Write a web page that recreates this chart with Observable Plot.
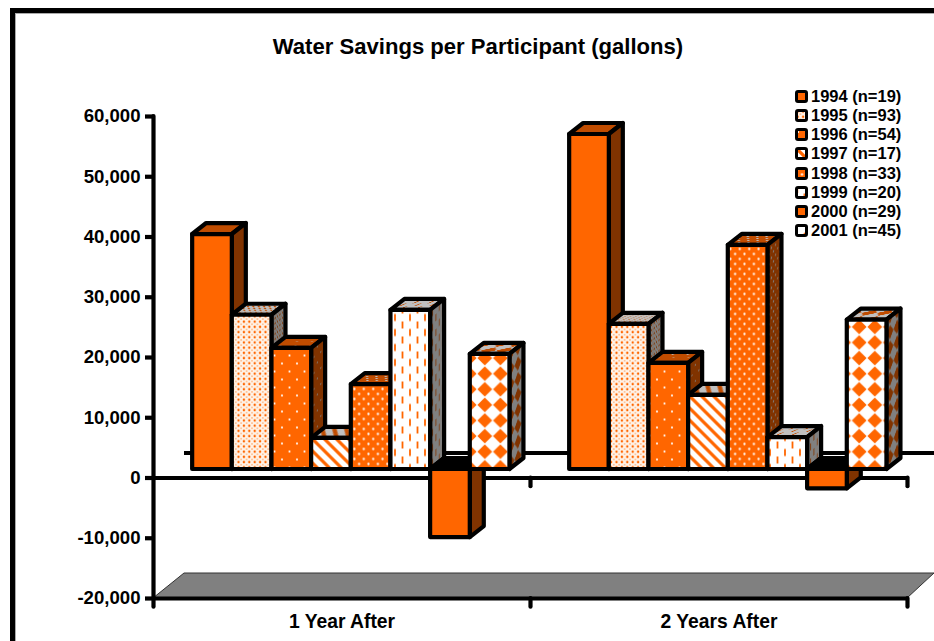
<!DOCTYPE html>
<html>
<head>
<meta charset="utf-8">
<script src="https://cdn.jsdelivr.net/npm/d3@7"></script>
<script src="https://cdn.jsdelivr.net/npm/@observablehq/plot@0.6"></script>
<style>
html,body{margin:0;padding:0;background:#fff;overflow:hidden;width:934px;height:641px;font-family:"Liberation Sans",Arial,sans-serif;font-weight:bold;color:#000}
#frame{position:absolute;left:10px;top:8px;right:-10px;bottom:-10px;border-left:5px solid #000;border-top:5px solid #000;box-shadow:inset 1px 1px 0 #aaa}
#chart{position:absolute;left:0;top:0}
#title{position:absolute;left:0;width:956px;top:35px;text-align:center;font-size:22.1px;line-height:24px}
#legend{position:absolute;left:795px;top:87px}
.item{position:absolute;left:0;height:19px;white-space:nowrap;font-size:16.5px;line-height:19px}
.item svg{position:absolute;left:0;top:3px}
.item span{position:absolute;left:16px;top:0}
</style>
</head>
<body>
<div id="frame"></div>
<div id="root"></div>
<div id="title">Water Savings per Participant (gallons)</div>
<div id="legend"></div>
<script>
const groups = ["1 Year After", "2 Years After"];
const years = ["1994", "1995", "1996", "1997", "1998", "1999", "2000", "2001"];
const counts = [19, 93, 54, 17, 33, 20, 29, 45];
const oneYearAfter = [39000, 25600, 20100, 5150, 14100, 26400, -11300, 19100];
const twoYearsAfter = [55600, 24100, 17600, 12300, 37200, 5300, -3200, 24800];
const yTicks = [-20000, -10000, 0, 10000, 20000, 30000, 40000, 50000, 60000];

const BAR = 0.1052;  // bar width as a share of a category
const PAD = 0.08;    // space before a category's first bar
const rows = [];
[oneYearAfter, twoYearsAfter].forEach((series, g) => {
  series.forEach((value, i) => {
    rows.push({group: groups[g], year: years[i], value, i, x1: g + PAD + i * BAR, x2: g + PAD + (i + 1) * BAR});
  });
});

// Hatch fills
const ORANGE = ["#FF6600", "#C04C00", "#803300"];
const WHITE  = ["#FFFFFF", "#C0C0C0", "#808080"];
const faceTransforms = ["", "matrix(1 0 -0.9 0.4 0 0)", "matrix(0.45 -0.34 0 1 0 0)"];
const patternMakers = [
  (p, o, w) => { p.attr("width", 8).attr("height", 8); p.append("rect").attr("width", 8).attr("height", 8).attr("fill", o); },
  (p, o, w) => {
    p.attr("width", 5.4).attr("height", 5.2);
    p.append("rect").attr("width", 6).attr("height", 6).attr("fill", w === WHITE[0] ? "#FFF3E8" : w);
    p.append("circle").attr("cx", 2.7).attr("cy", 2.6).attr("r", 1.2).attr("fill", o);
    for (const [x, y] of [[0, 0], [5.4, 0], [0, 5.2], [5.4, 5.2]])
      p.append("circle").attr("cx", x).attr("cy", y).attr("r", 0.9).attr("fill", o).attr("opacity", 0.45);
  },
  (p, o, w) => {
    p.attr("width", 15).attr("height", 16);
    p.append("rect").attr("width", 15).attr("height", 16).attr("fill", o);
    for (const [x, y] of [[3, 4], [10.5, 12]]) p.append("circle").attr("cx", x).attr("cy", y).attr("r", 1.1).attr("fill", w);
  },
  (p, o, w) => {
    p.attr("width", 12).attr("height", 12);
    p.append("rect").attr("width", 12).attr("height", 12).attr("fill", w);
    p.append("path").attr("d", "M-3,-3L15,15M-3,9L3,15M9,-3L15,3").attr("stroke", o).attr("stroke-width", 3.2);
  },
  (p, o, w) => {
    p.attr("width", 9.4).attr("height", 10);
    p.append("rect").attr("width", 10).attr("height", 10).attr("fill", o);
    for (const [x, y] of [[2.3, 2.5], [7, 7.5]]) p.append("circle").attr("cx", x).attr("cy", y).attr("r", 1.15).attr("fill", w);
  },
  (p, o, w) => {
    p.attr("width", 15).attr("height", 15);
    p.append("rect").attr("width", 15).attr("height", 15).attr("fill", w);
    p.append("path").attr("d", "M3.5,0V7M11,7.5V14.5").attr("stroke", o).attr("stroke-width", 1.8);
  },
  (p, o, w) => { p.attr("width", 8).attr("height", 8); p.append("rect").attr("width", 8).attr("height", 8).attr("fill", o); },
  (p, o, w) => {
    p.attr("width", 15.6).attr("height", 15.6);
    p.append("rect").attr("width", 16).attr("height", 16).attr("fill", w);
    p.append("path").attr("d", "M7.8,0.4L15.2,7.8L7.8,15.2L0.4,7.8Z").attr("fill", o);
  }
];
const defsSvg = d3.select("#root").append("svg").attr("width", 0).attr("height", 0).style("position", "absolute");
const defs = defsSvg.append("defs");
patternMakers.forEach((make, i) => {
  [0, 1, 2].forEach(face => {
    const p = defs.append("pattern").attr("id", `p${i}f${face}`).attr("patternUnits", "userSpaceOnUse");
    if (faceTransforms[face]) p.attr("patternTransform", faceTransforms[face]);
    make(p, ORANGE[face], WHITE[face]);
  });
});
const fillFor = (i, face) => `url(#p${i}f${face})`;

// Depth of the bars, and of the plot floor, on the page
const BAR_SHIFT = [9, -8.5];
const BAR_DEPTH = [14, -11];
const FLOOR_LEFT = [31, -25];
const FLOOR_RIGHT = [27, -25];
const INK = "#000";
const LINE = 4.2;

const addFaces = (index, scales, values, dims, ctx, next) => {
  const g = next(index, scales, values, dims, ctx);
  const rects = [...g.querySelectorAll("rect")];
  const ns = "http://www.w3.org/2000/svg";
  rects.forEach((rect, k) => {
    const row = rows[index[k]];
    const x = +rect.getAttribute("x"), y = +rect.getAttribute("y");
    const w = +rect.getAttribute("width"), h = +rect.getAttribute("height");
    const [ddx, ddy] = BAR_DEPTH;
    const poly = (pts, fill) => {
      const el = document.createElementNS(ns, "polygon");
      el.setAttribute("points", pts.map(p => p.join(",")).join(" "));
      el.setAttribute("fill", fill);
      el.setAttribute("stroke", INK);
      el.setAttribute("stroke-width", LINE);
      el.setAttribute("stroke-linejoin", "round");
      return el;
    };
    const top = poly([[x, y], [x + ddx, y + ddy], [x + w + ddx, y + ddy], [x + w, y]],
      row.value < 0 ? "#000" : fillFor(row.i, 1));
    const side = poly([[x + w, y], [x + w + ddx, y + ddy], [x + w + ddx, y + h + ddy], [x + w, y + h]], fillFor(row.i, 2));
    rect.before(top);
    rect.before(side);
  });
  return g;
};

// Floor of the chart, built from the x and y scales
const floorMark = (index, scales) => {
  const y0 = scales.y(yTicks[0]);
  const left = scales.x(0);
  const right = scales.x(groups.length);
  const g = d3.create("svg:g");
  g.append("polygon")
    .attr("points", [[left, y0], [left + FLOOR_LEFT[0], y0 + FLOOR_LEFT[1]], [right + FLOOR_RIGHT[0], y0 + FLOOR_RIGHT[1]], [right, y0]].map(p => p.join(",")).join(" "))
    .attr("fill", "#808080").attr("stroke", "#333").attr("stroke-width", 1);
  return g.node();
};

const TICK_DOWN = 1450; // length of a boundary tick, in gallons
const plot = Plot.plot({
  width: 934,
  height: 641,
  marginTop: 116,
  marginBottom: 43,
  marginLeft: 153,
  marginRight: 27,
  style: {fontFamily: "'Liberation Sans', Arial, sans-serif", fontWeight: "bold", color: "#000", background: "transparent", overflow: "hidden"},
  x: {type: "linear", domain: [0, groups.length], label: null},
  y: {domain: [yTicks[0], yTicks[yTicks.length - 1]], label: null},
  marks: [
    floorMark,
    Plot.ruleY([0], {dx: FLOOR_LEFT[0], dy: FLOOR_LEFT[1], stroke: INK, strokeWidth: LINE}),
    Plot.ruleY([yTicks[0], 0], {stroke: INK, strokeWidth: LINE}),
    Plot.ruleX([0], {y1: yTicks[0] - TICK_DOWN, y2: yTicks[yTicks.length - 1], stroke: INK, strokeWidth: LINE, strokeLinecap: "round"}),
    Plot.ruleX([1, 2], {y1: 0, y2: -TICK_DOWN, stroke: INK, strokeWidth: LINE, strokeLinecap: "round"}),
    Plot.ruleX([1, 2], {y1: yTicks[0], y2: yTicks[0] - TICK_DOWN, stroke: INK, strokeWidth: LINE, strokeLinecap: "round"}),
    Plot.axisY({
      ticks: yTicks, tickFormat: d => d.toLocaleString("en-US"), tickSize: 8, tickPadding: 5,
      fontSize: 18.6, fontWeight: "bold", strokeWidth: LINE, label: null, stroke: INK
    }),
    Plot.axisX({
      ticks: groups.map((_, g) => g + 0.5), tickFormat: t => groups[Math.floor(t)],
      tickSize: 0, tickPadding: 16, fontSize: 19.3, fontWeight: "bold", label: null
    }),
    Plot.rect(rows, {
      x1: "x1", x2: "x2", y1: () => 0, y2: "value",
      fill: {value: d => fillFor(d.i, 0), scale: null},
      stroke: INK, strokeWidth: LINE, strokeLinejoin: "round",
      dx: BAR_SHIFT[0], dy: BAR_SHIFT[1],
      render: addFaces
    })
  ]
});
plot.id = "chart";
document.getElementById("root").appendChild(plot);

// Legend over the top right of the plot
const swatchOrigin = [[0, 0], [0, 0], [0, 0], [0, 0], [0, 0], [1.5, 0], [0, 0], [-5, -5]];
const legend = d3.select("#legend");
years.forEach((year, i) => {
  const item = legend.append("div").attr("class", "item").style("top", `${i * 19.15}px`);
  const [ox, oy] = swatchOrigin[i];
  const s = item.append("svg").attr("width", 13).attr("height", 13).attr("viewBox", `${ox} ${oy} 13 13`);
  s.append("rect").attr("x", ox + 1.5).attr("y", oy + 1.5).attr("width", 10).attr("height", 10).attr("rx", 1.5)
    .attr("fill", fillFor(i, 0)).attr("stroke", "#000").attr("stroke-width", 3);
  item.append("span").text(`${year} (n=${counts[i]})`);
});
</script>
</body>
</html>
